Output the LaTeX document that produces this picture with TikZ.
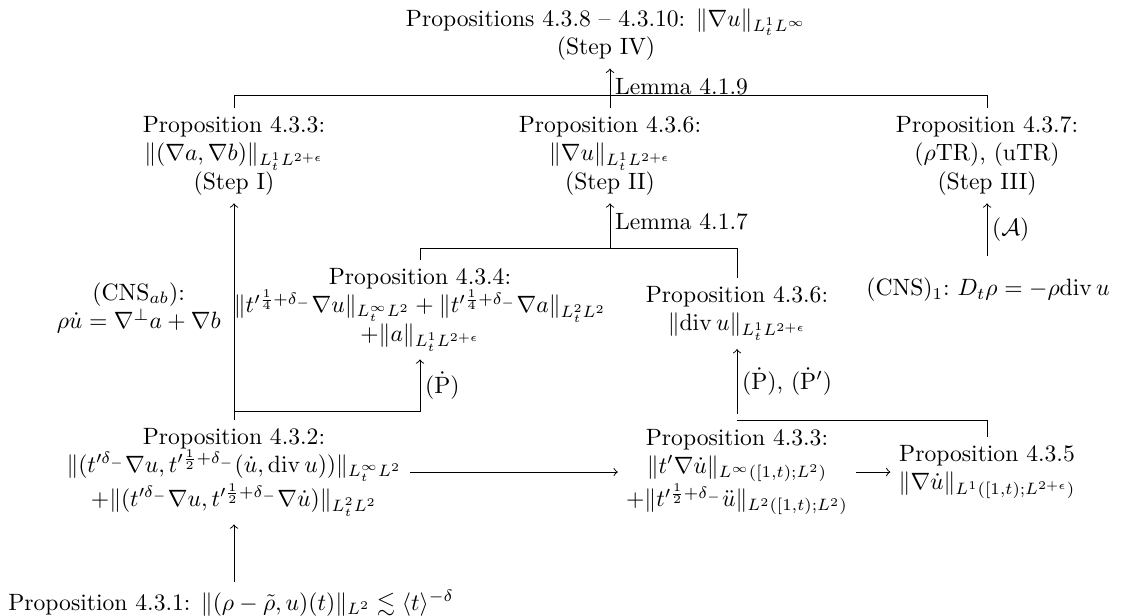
\documentclass[tikz,border=0pt]{standalone}
\usepackage{amsmath, amssymb}
\usetikzlibrary{arrows,calc}

\tikzset{
  prop/.style={align=center},
  lem/.style={right, inner sep=2pt},
}

\begin{document}
\begin{tikzpicture}[x=0.4237pt,y=0.4237pt,yscale=-1,xscale=1]
\useasboundingbox (0,0) rectangle (1123,615);

% Text Node
\node[prop, anchor=north] (stepIV) at (606,0) {Propositions 4.3.8 -- 4.3.10: $\|\nabla u\|_{L^1_tL^\infty}$\\(Step IV)};
% Text Node
\node[prop, anchor=north] (stepI) at (234,108) {Proposition 4.3.3:\\$\|(\nabla a,\nabla b)\|_{L^1_tL^{2+\epsilon}}$\\(Step I)};
% Text Node
\node[prop, anchor=north] (stepII) at (610,108) {Proposition 4.3.6:\\$\|\nabla u\|_{L^1_tL^{2+\epsilon}}$\\(Step II)};
% Text Node
\node[prop, anchor=north] (stepIII) at (987,108) {Proposition 4.3.7:\\($\rho$TR), (uTR)\\(Step III)};

% Text Node
\node[prop, anchor=east] (cnsab) at (229,308) {(CNS$_{ab}$):\\$\rho\dot u=\nabla^\perp a+\nabla b$};
% Text Node
\node[prop, anchor=north] (p434) at (420,260) {Proposition 4.3.4:\\$\|t'^{\frac14+\delta_-}\nabla u\|_{L^\infty_tL^2}+\|t'^{\frac14+\delta_-}\nabla a\|_{L^2_tL^2}$\\$+\|a\|_{L^1_tL^{2+\epsilon}}$};
% Text Node
\node[prop, anchor=north] (divu) at (737,278) {Proposition 4.3.6:\\$\|\mathrm{div}\,u\|_{L^1_tL^{2+\epsilon}}$};
% Text Node
\node[prop] (cns1) at (988,290) {(CNS)$_1$:~$D_t\rho=-\rho\mathrm{div}\,u$};

% Text Node
\node[prop] (p432) at (234,472) {Proposition 4.3.2:\\$\|(t'^{\delta_-}\nabla u,t'^{\frac12+\delta_-}(\dot u,\mathrm{div}\,u))\|_{L^\infty_tL^2}$\\$+\|(t'^{\delta_-}\nabla u,t'^{\frac12+\delta_-}\nabla\dot u)\|_{L^2_tL^2}$};
% Text Node
\node[prop] (p433) at (737,472) {Proposition 4.3.3:\\$\|t'\nabla\dot u\|_{L^\infty([1,t);L^2)}$\\$+\|t'^{\frac12+\delta_-}\ddot u\|_{L^2([1,t);L^2)}$};
% Text Node
\node[prop] (p435) at (987,472) {Proposition 4.3.5\\$\|\nabla\dot u\|_{L^1([1,t);L^{2+\epsilon})}$};
% Text Node
\node[prop, anchor=west] (p431) at (0,603) {Proposition 4.3.1: $\|(\rho-\tilde\rho,u)(t)\|_{L^2}\lesssim\langle t\rangle^{-\delta}$};

%Straight Lines
\draw (stepI.north) -- ++(0,-13) coordinate (forkA) -| (stepIII.north);
\draw[->] (stepII.north) -- (stepII.north |- stepIV.south) node[lem, pos=0.55] {Lemma 4.1.9};
%Straight Lines
\draw (p434.north) -- ++(0,-12) coordinate (forkB) -| (divu.north);
\draw[->] (stepII.south |- forkB) -- (stepII.south) node[lem, pos=0.6] {Lemma 4.1.7};
\draw[->] ([yshift=-6pt]cns1.north -| stepIII.south) -- (stepIII.south) node[lem, midway] {$(\mathcal{A})$};
%Straight Lines
\draw[->] (p432.north) -- (stepI.south);
\draw[->] (p432.north) ++(0,-8) -| (p434.south) node[lem, pos=0.75] {$(\dot{\mathrm{P}})$};
\draw[->] ([yshift=-3pt]p433.north) -- (divu.south) node[lem, midway] {$(\dot{\mathrm{P}})$, $(\dot{\mathrm{P}}')$};
\draw (p435.north) |- (p433.north);
%Straight Lines
\draw[->] (p432) -- (p433);
\draw[->] (p433) -- (p435);
\draw[->] (p431.north -| p432.south) -- (p432.south);

\end{tikzpicture}
\end{document}
